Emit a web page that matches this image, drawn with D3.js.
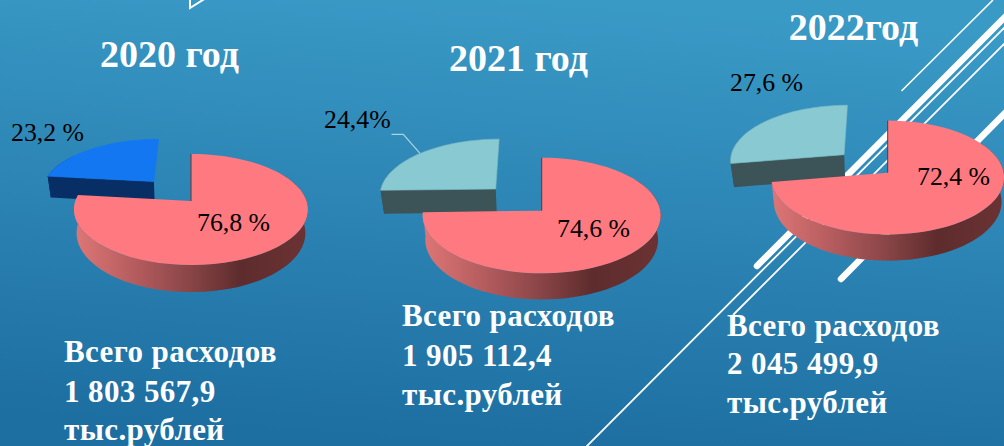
<!DOCTYPE html>
<html><head><meta charset="utf-8">
<style>html,body{margin:0;padding:0;background:#2a85b5}svg{display:block}text{font-family:"Liberation Serif",serif}</style>
<script src="https://cdn.jsdelivr.net/npm/d3@7"></script></head><body>
<script>
// ---- data ----
const years = ["2020 год", "2021 год", "2022год"];
const mainShare = [76.8, 74.6, 72.4];
const otherShare = [23.2, 24.4, 27.6];
const mainLabels = ["76,8 %", "74,6 %", "72,4 %"];
const otherLabels = ["23,2 %", "24,4%", "27,6 %"];
const totals = ["1 803 567,9", "1 905 112,4", "2 045 499,9"];
const captionTop = "Всего расходов";
const captionUnit = "тыс.рублей";

// ---- layout ----
const W = 1004, H = 446, TAU = Math.PI * 2;
const layout = [
  {cx:191, cy:201, kx:115.6, ky:54.2, p:.153, e:.51, h:23,
   title:[169.5,67], main:[197,231], other:[11,141], cap:[64,[362,402,440]], otherTop:"#1477f2", otherWall:"#072f66", otherEdge:"#1477f2"},
  {cx:541.7, cy:210.7, kx:118.6, ky:57.4, p:.083, e:.559, h:24,
   title:[518.5,71], main:[557,237], other:[324,128], cap:[402,[326,366,405]], otherTop:"#88c9d2", otherWall:"#3c5358", otherEdge:"#7fb9c2"},
  {cx:887.7, cy:172.7, kx:116, ky:56.5, p:.0845, e:.506, h:24,
   title:[853.5,40], main:[917,185], other:[730,91], cap:[727,[336,374,413]], otherTop:"#88c9d2", otherWall:"#3c5358", otherEdge:"#7fb9c2"}
];
const mainTop = "#ff7a80";
const wallStops = [[0,"#de7676"],[.24,"#b85e60"],[.48,"#8d4749"],[.72,"#5e2c2d"],[1,"#6b3233"]];

// diagonal decoration [x1,y1,x2,y2,width]
const stripes = [
  [901.5,91,993,0,1.6],
  [757,266,1006,16,6.5],
  [586,447,1006,26,1.8],
  [733,315,1006,42,1.8],
  [841,279,1006,112,6.5]
];

const svg = d3.select("body").append("svg").attr("width",W).attr("height",H).attr("viewBox",[0,0,W,H]);
const defs = svg.append("defs");
const bg = defs.append("linearGradient").attr("id","bg").attr("x1","58%").attr("y1","0%").attr("x2","42%").attr("y2","100%");
bg.append("stop").attr("offset",0).attr("stop-color","#3a9ac6");
bg.append("stop").attr("offset",1).attr("stop-color","#1d6ea1");
svg.append("rect").attr("width",W).attr("height",H).attr("fill","url(#bg)");

// decoration lines
svg.append("g").selectAll("line").data(stripes).join("line")
  .attr("x1",d=>d[0]).attr("y1",d=>d[1]).attr("x2",d=>d[2]).attr("y2",d=>d[3])
  .attr("stroke","#fff").attr("stroke-width",d=>d[4]).attr("stroke-linecap",d=>d[4]>3?"round":"butt");
svg.append("path").attr("d","M190,-2V8L206,-2").attr("fill","none").attr("stroke","#fff").attr("stroke-width",2);

const line = d3.line();
const pie = d3.pie().sort(null);

years.forEach((yr,i)=>{
  const L = layout[i];
  // pie shares run on a 100-percent circle; the detached slice closes it as it does in the picture
  const arcs = pie.endAngle(TAU*(mainShare[i]+otherShare[i])/100)([mainShare[i],otherShare[i]]);
  arcs[1].endAngle = TAU;
  const m = arcs[0], o = arcs[1];

  // perspective projection of the unit disc
  const sx = d3.scaleLinear().domain([-1,1]).range([L.cx-L.kx,L.cx+L.kx]);
  const sy = d3.scaleLinear().domain([-1,1]).range([L.cy+L.ky,L.cy-L.ky]);
  const proj = (X,Z,low) => {
    const den = 1+L.p*Z;
    if(!low) return [sx(X/den), sy(Z/den)];
    return [L.cx+(sx(X/den)-L.cx)*.978, sy(Z/den)+L.h/den];
  };
  const pt = (a,r,off,low) => proj(r*Math.sin(a)+off[0], r*Math.cos(a)+off[1], low);
  const rim = (a0,a1,off,low) => d3.range(0,61).map(t=>pt(a0+(a1-a0)*t/60,1,off,low));
  const noOff = [0,0];

  const g = svg.append("g");

  // detached slice
  const mid = (o.startAngle+o.endAngle)/2;
  const off = [L.e*Math.sin(mid), L.e*Math.cos(mid)];
  g.append("path").attr("fill",L.otherWall).attr("d",line([
     pt(o.startAngle,1,off,false), pt(0,0,off,false), pt(0,0,off,true), pt(o.startAngle,1,off,true)])+"Z");
  g.append("path").attr("fill",L.otherWall).attr("d",line([
     ...rim(o.startAngle,o.startAngle+.5,off,false), ...rim(o.startAngle,o.startAngle+.5,off,true).reverse()])+"Z");
  g.append("path").attr("fill",L.otherTop).attr("stroke",L.otherEdge).attr("stroke-width",.6)
   .attr("d",line([pt(0,0,off,false),...rim(o.startAngle,o.endAngle,off,false)])+"Z");

  // main slice wall
  const grad = defs.append("linearGradient").attr("id","wall"+i).attr("gradientUnits","userSpaceOnUse")
    .attr("x1",L.cx-L.kx).attr("x2",L.cx+L.kx*.98).attr("y1",0).attr("y2",0);
  wallStops.forEach(s=>grad.append("stop").attr("offset",s[0]).attr("stop-color",s[1]));
  g.append("path").attr("fill",`url(#wall${i})`)
   .attr("d",line([...rim(m.startAngle+1,m.endAngle,noOff,false), ...rim(m.startAngle+1,m.endAngle,noOff,true).reverse()])+"Z");
  // main slice top
  g.append("path").attr("fill",mainTop)
   .attr("d",line([pt(0,0,noOff,false),...rim(m.startAngle,m.endAngle,noOff,false)])+"Z");
  // dark inner edge of the cut
  g.append("path").attr("fill","none").attr("stroke","#6b3233").attr("stroke-width",1)
   .attr("d",line([pt(0,0,noOff,false),pt(m.startAngle,1,noOff,false)]));

  // titles
  svg.append("text").attr("x",L.title[0]).attr("y",L.title[1]).attr("text-anchor","middle")
    .attr("font-size",38).attr("font-weight",700).attr("fill","#fff").text(yr);
  // value labels
  svg.append("text").attr("x",L.main[0]).attr("y",L.main[1]).attr("font-size",25.8).attr("fill","#000").text(mainLabels[i]);
  svg.append("text").attr("x",L.other[0]).attr("y",L.other[1]).attr("font-size",25.8).attr("fill","#000").text(otherLabels[i]);
  // captions
  [captionTop,totals[i],captionUnit].forEach((t,j)=>{
    svg.append("text").attr("x",L.cap[0]).attr("y",L.cap[1][j]).attr("font-size",31)
      .attr("font-weight",700).attr("fill","#fff").attr("letter-spacing",.4).text(t);
  });
});
// leader line for the 2021 small slice
svg.append("path").attr("d","M391.5,134.3H403.3L420,153.3").attr("fill","none").attr("stroke","#a9d5de").attr("stroke-width",1.2);
</script></body></html>
